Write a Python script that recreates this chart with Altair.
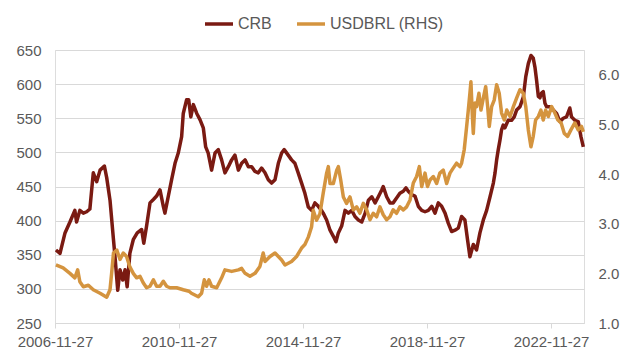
import altair as alt
import pandas as pd

# ---------------- data ----------------
crb_dates = [
    "2006-12-08", "2007-01-25", "2007-03-25", "2007-05-22", "2007-07-19", "2007-08-08",
    "2007-09-16", "2007-10-27", "2007-12-05", "2008-01-12", "2008-02-21", "2008-04-01",
    "2008-05-11", "2008-07-01", "2008-07-28", "2008-09-05", "2008-10-16", "2008-11-03",
    "2008-12-05", "2009-01-01", "2009-02-02", "2009-03-01", "2009-03-26", "2009-04-27",
    "2009-06-06", "2009-07-23", "2009-09-13", "2009-10-08", "2009-11-10", "2009-12-20",
    "2010-01-29", "2010-03-08", "2010-04-17", "2010-05-26", "2010-06-14", "2010-07-24",
    "2010-09-01", "2010-10-11", "2010-11-18", "2010-12-28", "2011-01-16", "2011-02-24",
    "2011-03-21", "2011-04-15", "2011-05-15", "2011-06-24", "2011-08-01", "2011-09-09",
    "2011-10-07", "2011-11-06", "2011-12-16", "2012-01-25", "2012-03-03", "2012-04-12",
    "2012-05-21", "2012-06-30", "2012-08-08", "2012-09-16", "2012-10-26", "2012-12-04",
    "2013-01-13", "2013-02-21", "2013-04-01", "2013-05-10", "2013-06-18", "2013-07-27",
    "2013-09-05", "2013-10-14", "2013-11-22", "2014-01-01", "2014-02-09", "2014-03-20",
    "2014-04-19", "2014-06-05", "2014-07-15", "2014-08-23", "2014-10-01", "2014-11-10",
    "2014-12-19", "2015-01-28", "2015-03-08", "2015-04-16", "2015-05-26", "2015-07-03",
    "2015-07-23", "2015-09-01", "2015-10-11", "2015-11-19", "2015-12-20", "2016-01-17",
    "2016-02-25", "2016-04-05", "2016-05-14", "2016-06-23", "2016-07-31", "2016-09-09",
    "2016-10-19", "2016-11-28", "2017-01-05", "2017-02-14", "2017-03-25", "2017-05-02",
    "2017-06-11", "2017-06-29", "2017-08-08", "2017-09-16", "2017-10-24", "2017-12-03",
    "2018-01-11", "2018-02-20", "2018-03-24", "2018-04-20", "2018-05-30", "2018-07-08",
    "2018-08-16", "2018-09-25", "2018-11-03", "2018-12-12", "2019-01-21", "2019-03-01",
    "2019-04-09", "2019-05-18", "2019-06-27", "2019-08-05", "2019-09-13", "2019-10-22",
    "2019-11-30", "2020-01-08", "2020-02-16", "2020-03-18", "2020-04-15", "2020-05-25",
    "2020-07-02", "2020-08-11", "2020-09-20", "2020-10-29", "2020-12-08", "2021-01-16",
    "2021-02-05", "2021-02-24", "2021-03-15", "2021-04-04", "2021-04-23", "2021-05-12",
    "2021-06-01", "2021-07-10", "2021-08-18", "2021-09-19", "2021-10-17", "2021-11-26",
    "2022-01-04", "2022-02-02", "2022-03-04", "2022-04-04", "2022-05-01", "2022-05-21",
    "2022-06-09", "2022-06-30", "2022-07-19", "2022-08-07", "2022-08-27", "2022-09-16",
    "2022-10-05", "2022-11-14", "2022-12-23", "2023-01-31", "2023-03-11", "2023-04-19",
    "2023-05-28", "2023-07-06", "2023-07-26", "2023-09-03", "2023-10-13", "2023-11-14",
    "2023-12-12",
]
crb_values = [
    357, 352, 382, 398, 415, 398,
    415, 411, 413, 417, 470, 457,
    474, 480, 463, 430, 372, 347,
    298, 328, 313, 328, 303, 352,
    372, 382, 387, 367, 392, 426,
    431, 436, 445, 421, 411, 436,
    460, 484, 499, 523, 557, 577,
    577, 552, 570, 557, 548, 536,
    508, 499, 474, 499, 504, 489,
    470, 479, 489, 496, 474, 484,
    489, 479, 479, 472, 470, 477,
    470, 460, 455, 460, 484, 499,
    504, 496, 489, 484, 470, 455,
    440, 420, 415, 426, 421, 415,
    411, 401, 386, 377, 369, 382,
    392, 415, 411, 415, 406, 401,
    398, 411, 430, 435, 426, 435,
    445, 450, 435, 426, 426, 433,
    440, 443, 448, 443, 438, 436,
    421, 415, 413, 415, 421, 411,
    426, 421, 411, 396, 384, 386,
    389, 406, 401, 372, 347, 365,
    357, 382, 401, 415, 435, 455,
    470, 489, 504, 518, 533, 540,
    536, 547, 547, 552, 562, 567,
    581, 611, 630, 642, 638, 625,
    606, 582, 580, 587, 589, 572,
    567, 567, 562, 557, 545, 550,
    552, 565, 552, 547, 545, 523,
    508,
]

brl_dates = [
    "2006-12-08", "2007-03-03", "2007-05-22", "2007-07-19", "2007-08-21", "2007-09-16",
    "2007-10-27", "2007-12-25", "2008-02-21", "2008-05-11", "2008-07-28", "2008-09-05",
    "2008-09-24", "2008-10-16", "2008-11-24", "2009-01-01", "2009-02-08", "2009-03-19",
    "2009-04-27", "2009-06-06", "2009-07-16", "2009-08-24", "2009-10-01", "2009-11-10",
    "2009-12-20", "2010-01-29", "2010-03-08", "2010-04-17", "2010-05-26", "2010-07-04",
    "2010-08-12", "2010-10-30", "2011-01-16", "2011-03-25", "2011-04-22", "2011-07-12",
    "2011-08-20", "2011-09-21", "2011-10-18", "2011-11-15", "2011-12-16", "2012-02-14",
    "2012-04-12", "2012-05-21", "2012-08-08", "2012-10-26", "2012-12-04", "2013-01-13",
    "2013-03-12", "2013-05-10", "2013-07-07", "2013-08-15", "2013-09-05", "2013-11-03",
    "2014-01-01", "2014-02-09", "2014-03-20", "2014-04-29", "2014-07-15", "2014-09-12",
    "2014-11-10", "2014-12-19", "2015-01-28", "2015-03-08", "2015-03-27", "2015-05-05",
    "2015-06-14", "2015-07-23", "2015-09-01", "2015-09-21", "2015-10-11", "2015-11-19",
    "2015-12-29", "2016-01-17", "2016-02-14", "2016-03-16", "2016-04-23", "2016-06-02",
    "2016-07-11", "2016-08-20", "2016-09-27", "2016-11-06", "2016-12-16", "2017-01-24",
    "2017-03-03", "2017-04-12", "2017-05-21", "2017-06-29", "2017-08-08", "2017-09-16",
    "2017-10-24", "2017-12-03", "2018-01-11", "2018-02-20", "2018-04-01", "2018-05-11",
    "2018-06-18", "2018-07-27", "2018-08-28", "2018-09-25", "2018-11-03", "2018-12-02",
    "2019-01-01", "2019-02-09", "2019-03-20", "2019-04-27", "2019-06-06", "2019-07-16",
    "2019-08-24", "2019-10-01", "2019-11-10", "2019-12-19", "2020-01-08", "2020-02-08",
    "2020-03-07", "2020-03-27", "2020-04-15", "2020-04-27", "2020-05-14", "2020-05-25",
    "2020-06-13", "2020-07-02", "2020-07-30", "2020-08-23", "2020-09-20", "2020-10-18",
    "2020-11-10", "2020-11-29", "2020-12-27", "2021-01-26", "2021-02-24", "2021-03-26",
    "2021-04-23", "2021-05-26", "2021-06-23", "2021-08-01", "2021-09-09", "2021-10-17",
    "2021-11-26", "2022-01-04", "2022-02-02", "2022-03-04", "2022-04-04", "2022-05-01",
    "2022-05-29", "2022-06-30", "2022-07-30", "2022-08-27", "2022-09-24", "2022-10-26",
    "2022-12-04", "2023-01-11", "2023-02-15", "2023-03-26", "2023-05-02", "2023-06-10",
    "2023-07-19", "2023-09-03", "2023-10-13", "2023-11-21", "2023-12-12",
]
brl_values = [
    2.17, 2.11, 2.00, 1.91, 2.07, 1.83,
    1.73, 1.76, 1.67, 1.60, 1.52, 1.67,
    2.00, 2.41, 2.47, 2.28, 2.41, 2.34,
    2.13, 2.00, 1.91, 1.94, 1.81, 1.71,
    1.74, 1.87, 1.74, 1.74, 1.84, 1.74,
    1.71, 1.71, 1.67, 1.64, 1.60, 1.53,
    1.60, 1.87, 1.74, 1.87, 1.74, 1.71,
    1.91, 2.07, 2.04, 2.07, 2.10, 2.00,
    1.94, 2.00, 2.14, 2.41, 2.24, 2.34,
    2.41, 2.34, 2.27, 2.17, 2.24, 2.34,
    2.51, 2.58, 2.73, 2.94, 3.27, 3.07,
    3.20, 3.62, 4.02, 4.15, 3.81, 3.81,
    4.08, 4.15, 3.88, 3.54, 3.41, 3.54,
    3.28, 3.34, 3.21, 3.41, 3.28, 3.08,
    3.21, 3.14, 3.34, 3.18, 3.08, 3.14,
    3.28, 3.21, 3.34, 3.28, 3.34, 3.48,
    3.82, 3.95, 4.15, 3.75, 4.02, 3.75,
    3.88, 3.95, 3.81, 4.02, 4.08, 3.81,
    4.02, 4.12, 4.22, 4.15, 4.22, 4.49,
    4.95, 5.29, 5.63, 5.86, 5.16, 4.82,
    5.43, 5.36, 5.63, 5.29, 5.53, 5.76,
    5.36, 4.96, 5.36, 5.49, 5.80, 5.63,
    5.23, 5.09, 5.29, 5.16, 5.36, 5.53,
    5.70, 5.63, 5.36, 4.89, 4.55, 4.76,
    5.09, 5.16, 5.29, 5.09, 5.29, 5.16,
    5.36, 5.23, 5.09, 5.03, 4.82, 4.76,
    4.89, 5.03, 4.89, 4.96, 4.85,
]

series_names = ["CRB", "USDBRL (RHS)"]
series_colors = ["#7a1a12", "#d4943f"]
left_ticks = [250, 300, 350, 400, 450, 500, 550, 600, 650]
right_ticks = [1.0, 2.0, 3.0, 4.0, 5.0, 6.0]
x_tick_years = [2006, 2010, 2014, 2018, 2022]

# ---------------- build tables ----------------
crb_df = pd.DataFrame({"date": crb_dates, "value": crb_values, "series": series_names[0]})
brl_df = pd.DataFrame({"date": brl_dates, "value": brl_values, "series": series_names[1]})

FONT = "Liberation Sans"
TXT = "#595959"

x_enc = alt.X(
    "date:T",
    title=None,
    scale=alt.Scale(
        domain=[alt.DateTime(year=2006, month=11, date=27, utc=True),
                alt.DateTime(year=2023, month=12, date=20, utc=True)],
        nice=False,
    ),
    axis=alt.Axis(
        values=[alt.DateTime(year=y, month=11, date=27, utc=True) for y in x_tick_years],
        labelExpr="utcFormat(datum.value, '%Y-%m-%d')",
        grid=False,
        domain=True,
        domainColor="#d9d9d9",
        ticks=True,
        tickColor="#d9d9d9",
        tickSize=5,
        labelPadding=6,
        labelFontSize=15,
        labelColor=TXT,
        labelFont=FONT,
        labelFlush=False,
        labelOverlap=False,
    ),
)

color_enc = alt.Color(
    "series:N",
    scale=alt.Scale(domain=series_names, range=series_colors),
    legend=alt.Legend(
        title=None,
        orient="none",
        direction="horizontal",
        legendX=148,
        legendY=-42,
        symbolType="stroke",
        symbolStrokeWidth=3.5,
        symbolSize=784,
        labelFontSize=16,
        labelColor=TXT,
        labelFont=FONT,
        columnPadding=18,
        labelOffset=3,
    ),
)

crb_line = alt.Chart(crb_df).mark_line(strokeWidth=3.5, strokeJoin="round").encode(
    x=x_enc,
    y=alt.Y(
        "value:Q",
        title=None,
        scale=alt.Scale(domain=[250, 650], nice=False, zero=False),
        axis=alt.Axis(
            orient="left",
            values=left_ticks,
            grid=True,
            gridColor="#d9d9d9",
            gridWidth=1,
            domain=False,
            ticks=False,
            labelPadding=14,
            labelFontSize=15,
            labelColor=TXT,
            labelFont=FONT,
        ),
    ),
    color=color_enc,
)

brl_line = alt.Chart(brl_df).mark_line(strokeWidth=3.5, strokeJoin="round").encode(
    x=x_enc,
    y=alt.Y(
        "value:Q",
        title=None,
        scale=alt.Scale(domain=[1.0, 6.5], nice=False, zero=False),
        axis=alt.Axis(
            orient="right",
            values=right_ticks,
            format=".1f",
            grid=False,
            domain=False,
            ticks=False,
            labelPadding=14,
            labelFontSize=15,
            labelColor=TXT,
            labelFont=FONT,
        ),
    ),
    color=color_enc,
)

chart = (
    alt.layer(crb_line, brl_line)
    .resolve_scale(y="independent")
    .properties(
        width=529,
        height=273,
        autosize=alt.AutoSizeParams(type="none"),
        padding={"left": 47, "top": 42, "right": 48, "bottom": 29},
    )
    .configure_view(stroke=None)
    .configure(background="white")
)

chart.save("out.html", embed_options={"renderer": "svg", "actions": False})
